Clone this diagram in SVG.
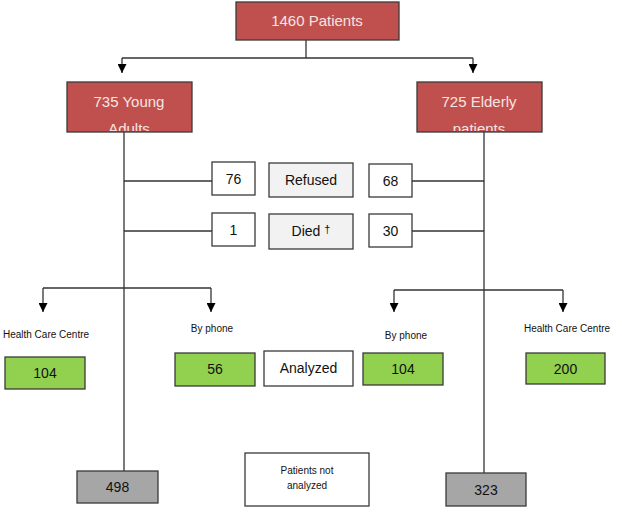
<svg xmlns="http://www.w3.org/2000/svg" width="622" height="515" viewBox="0 0 622 515">
<style>
.red{fill:#c0504d;stroke:#3a3a3a;stroke-width:1.3}
.grn{fill:#92d050;stroke:#3a3a3a;stroke-width:1.3}
.gry{fill:#a6a6a6;stroke:#3a3a3a;stroke-width:1.3}
.wht{fill:#ffffff;stroke:#3a3a3a;stroke-width:1.3}
.lgt{fill:#f2f2f2;stroke:#3a3a3a;stroke-width:1.3}
text{font-family:"Liberation Sans",Arial,sans-serif;text-anchor:middle;fill:#111}
.rt{fill:#f6e4e3;font-size:15px}
.n{font-size:14px}
.s{font-size:10px}
.c{stroke:#333;stroke-width:1.3;fill:none}
</style>
<defs>
<marker id="ar" viewBox="0 0 10 10" refX="10" refY="5" markerWidth="9" markerHeight="9" markerUnits="userSpaceOnUse" orient="auto">
<path d="M0,0 L10,5 L0,10 Z" fill="#000"/>
</marker>
<clipPath id="cy"><rect x="67" y="82" width="125" height="49"/></clipPath>
<clipPath id="ce"><rect x="417" y="82" width="125" height="49"/></clipPath>
</defs>
<g id="connectors">
<path class="c" d="M306,40 V58"/>
<path class="c" d="M122,58 H473"/>
<path class="c" d="M122,58 V73" marker-end="url(#ar)"/>
<path class="c" d="M473,58 V73" marker-end="url(#ar)"/>
<path class="c" d="M124,132 V471"/>
<path class="c" d="M484,132 V473"/>
<path class="c" d="M124,181 H212"/>
<path class="c" d="M124,231 H212"/>
<path class="c" d="M412,181 H484"/>
<path class="c" d="M412,231 H484"/>
<path class="c" d="M43,288 H211"/>
<path class="c" d="M43,288 V312" marker-end="url(#ar)"/>
<path class="c" d="M211,288 V312" marker-end="url(#ar)"/>
<path class="c" d="M394,290 H563"/>
<path class="c" d="M394,290 V312" marker-end="url(#ar)"/>
<path class="c" d="M563,290 V312" marker-end="url(#ar)"/>
</g>
<g id="n1460"><rect class="red" x="236" y="2" width="163" height="38"/><text class="rt" x="317" y="26">1460 Patients</text></g>
<g id="nYoung"><rect class="red" x="67" y="82" width="125" height="50"/><g clip-path="url(#cy)"><text class="rt" x="129" y="107">735 Young</text><text class="rt" x="129" y="134">Adults</text></g></g>
<g id="nElderly"><rect class="red" x="417" y="82" width="125" height="50"/><g clip-path="url(#ce)"><text class="rt" x="479" y="107">725 Elderly</text><text class="rt" x="479" y="134">patients</text></g></g>
<g id="n76"><rect class="wht" x="212" y="162" width="43" height="33"/><text class="n" x="233.5" y="184">76</text></g>
<g id="nRefused"><rect class="lgt" x="269" y="163" width="84" height="34"/><text class="n" x="311" y="185">Refused</text></g>
<g id="n68"><rect class="wht" x="369" y="164" width="43" height="33"/><text class="n" x="390.5" y="186">68</text></g>
<g id="n1"><rect class="wht" x="212" y="213" width="43" height="33"/><text class="n" x="233.5" y="235">1</text></g>
<g id="nDied"><rect class="lgt" x="269" y="214" width="84" height="35"/><text class="n" x="311" y="236">Died <tspan font-size="11" dy="-3">†</tspan></text></g>
<g id="n30"><rect class="wht" x="369" y="214" width="43" height="33"/><text class="n" x="390.5" y="236">30</text></g>
<g id="lHcc1"><text class="s" x="46" y="338">Health Care Centre</text></g>
<g id="lPhone1"><text class="s" x="212" y="332">By phone</text></g>
<g id="lPhone2"><text class="s" x="406" y="339">By phone</text></g>
<g id="lHcc2"><text class="s" x="567" y="332">Health Care Centre</text></g>
<g id="n104a"><rect class="grn" x="5" y="357" width="80" height="32"/><text class="n" x="45" y="378">104</text></g>
<g id="n56"><rect class="grn" x="175" y="353" width="80" height="33"/><text class="n" x="215" y="374">56</text></g>
<g id="nAnalyzed"><rect class="wht" x="264" y="351" width="89" height="35"/><text class="n" x="308.5" y="373">Analyzed</text></g>
<g id="n104b"><rect class="grn" x="363" y="353" width="80" height="32"/><text class="n" x="403" y="374">104</text></g>
<g id="n200"><rect class="grn" x="526" y="353" width="79" height="31"/><text class="n" x="565.5" y="374">200</text></g>
<g id="n498"><rect class="gry" x="77" y="471" width="81" height="32"/><text class="n" x="117.5" y="492">498</text></g>
<g id="nNot"><rect class="wht" x="245" y="453" width="124" height="53"/><text class="s" x="307" y="474" font-size="11">Patients not</text><text class="s" x="307" y="489" font-size="11">analyzed</text></g>
<g id="n323"><rect class="gry" x="446" y="473" width="80" height="33"/><text class="n" x="486" y="495">323</text></g>
</svg>
